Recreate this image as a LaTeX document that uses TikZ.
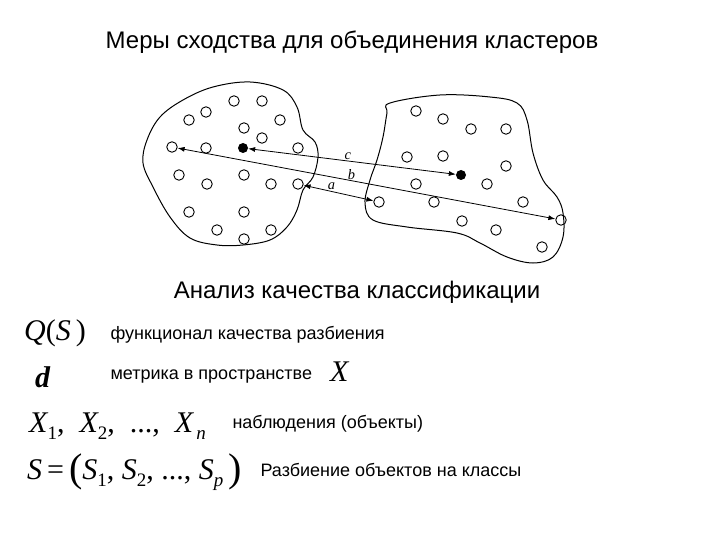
\documentclass[tikz,border=0pt]{standalone}
\usepackage{fontspec}
\setmainfont{Liberation Sans}
\newfontfamily\serifit{Liberation Serif}
\usetikzlibrary{arrows.meta}
\newcommand{\tv}[1]{{\serifit\itshape #1}}
\newcommand{\sub}[1]{\raisebox{-7pt}{\fontsize{19}{19}\selectfont #1}}
\newcommand{\bigpar}[1]{{\serifit\fontsize{40}{40}\selectfont\raisebox{-2pt}{#1}}}
\tikzset{
  pt/.style={circle,draw,line width=0.9pt,minimum size=10.5pt,inner sep=0pt},
  ctr/.style={circle,fill,minimum size=10pt,inner sep=0pt},
  blob/.style={line width=1pt},
  dist/.style={{Latex[length=7pt,width=5pt]}-{Latex[length=7pt,width=5pt]},line width=0.8pt},
  lbl/.style={font=\serifit\itshape\Large,inner sep=0pt},
  big/.style={font=\fontsize{24}{28}\selectfont},
  txt/.style={font=\fontsize{18}{21}\selectfont,anchor=west},
  frm/.style={font=\serifit\fontsize{30}{34}\selectfont,anchor=west,inner sep=0pt}
}

\begin{document}
\begin{tikzpicture}[x=1pt,y=-1pt]
  \useasboundingbox (0,0) rectangle (720,540);

  \node[big] (title) at (352,42) {Меры сходства для объединения кластеров};

  % first cluster
  \draw[blob] plot[smooth cycle,tension=0.6] coordinates {(250,82) (283,90) (297,107) (303,130)
    (315,142) (318,157) (313,177) (303,190) (297,210) (287,227) (270,240) (243,245) (217,245)
    (190,238) (170,217) (153,187) (143,163) (147,140) (160,117) (183,100) (213,87)};
  \foreach \x/\y in {234/101,262/101,206/112,189/120,280/120,244/128,262/138,206/148,298/148,
    179/175,244/175,207/184,271/184,189/212,244/212,217/230,271/230,244/239}
    \node[pt] at (\x,\y) {};
  \node[pt] (lfar) at (172,147) {};
  \node[ctr] (lc) at (243,148) {};
  \node[pt] (lnear) at (298,184) {};

  % second cluster
  \draw[blob] plot[smooth cycle,tension=0.6] coordinates {(390,103) (440,95) (490,97) (517,103)
    (527,120) (533,153) (543,180) (557,197) (563,213) (563,237) (553,257) (533,263) (507,257)
    (480,243) (457,233) (407,227) (373,220) (365,203) (370,180) (377,160) (383,137) (387,113)};
  \foreach \x/\y in {416/111,443/119,471/129,506/129,407/157,443/156,506/166,416/184,487/184,
    434/202,523/202,462/221,496/230,542/247}
    \node[pt] at (\x,\y) {};
  \node[ctr] (rc) at (461,175) {};
  \node[pt] (rnear) at (379,202) {};
  \node[pt] (rfar) at (561,220) {};

  % distances
  \draw[dist] (lc) to node[lbl,above=1pt,pos=0.48] {c} (rc);
  \draw[dist] (lfar) to node[lbl,above=1pt,pos=0.46] {b} (rfar);
  \draw[dist] (lnear) to node[lbl,above=1pt,pos=0.4] {a} (rnear);

  \node[big] (anal) at (357,292) {Анализ качества классификации};

  \node[frm] (Q) at (24,333) {\tv{Q}(\tv{S}\,)};
  \node[txt] (Qt) at (107,335) {функционал качества разбиения};
  \node[frm] (d) at (35,377) {\bfseries\tv{d}};
  \node[txt] (dt) at (107,377) {метрика в пространстве};
  \node[frm] (X) at (330,372) {\tv{X}};
  \node[frm] (Xn) at (29,426) {\tv{X}\sub{1},\enspace\tv{X}\sub{2},\enspace...,\enspace\tv{X}\sub{\,\tv{n}}};
  \node[txt] (Xt) at (229,424) {наблюдения (объекты)};
  \node[frm] (Sp) at (27,472) {\tv{S}\,=\,\bigpar{(}\tv{S}\sub{1}, \tv{S}\sub{2}, ..., \tv{S}\sub{\tv{p}}\,\bigpar{)}};
  \node[txt] (St) at (257,470) {Разбиение объектов на классы};
\end{tikzpicture}
\end{document}
